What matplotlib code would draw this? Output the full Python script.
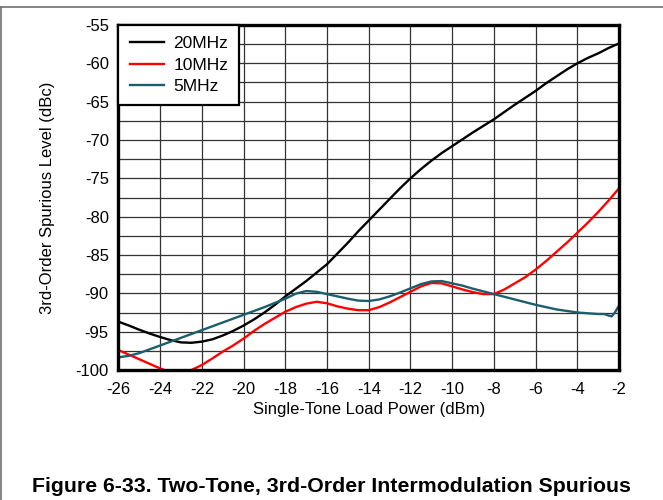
import numpy as np
import matplotlib
matplotlib.use("Agg")
import matplotlib.pyplot as plt
from matplotlib.lines import Line2D

plt.rcParams['font.family'] = ['Liberation Sans', 'DejaVu Sans']
plt.rcParams['axes.unicode_minus'] = False

# 20MHz
x_20 = [-26, -25.5, -25, -24.5, -24, -23.5, -23, -22.5, -22, -21.5, -21, -20.5,
        -20, -19.5, -19, -18.5, -18, -17.5, -17, -16.5, -16, -15.5, -15, -14.5,
        -14, -13.5, -13, -12.5, -12, -11.5, -11, -10.5, -10, -9.5, -9, -8.5,
        -8, -7.5, -7, -6.5, -6, -5.5, -5, -4.5, -4, -3.5, -3, -2.5, -2]
y_20 = [-93.7, -94.2, -94.75, -95.25, -95.7, -96.1, -96.4, -96.45, -96.3, -96.0,
        -95.5, -94.9, -94.2, -93.4, -92.5, -91.5, -90.4, -89.4, -88.4, -87.3,
        -86.2, -84.8, -83.4, -81.9, -80.5, -79.1, -77.7, -76.3, -75.0, -73.8,
        -72.7, -71.7, -70.8, -69.9, -69.0, -68.15, -67.3, -66.35, -65.4, -64.5,
        -63.6, -62.6, -61.7, -60.8, -60.0, -59.3, -58.7, -58.0, -57.4]

# 10MHz
x_10 = [-26, -25.5, -25, -24.5, -24, -23.5, -23, -22.5, -22, -21.5, -21, -20.5,
        -20, -19.5, -19, -18.5, -18, -17.5, -17, -16.5, -16, -15.5, -15, -14.5,
        -14, -13.5, -13, -12.5, -12, -11.5, -11, -10.5, -10, -9.5, -9, -8.5,
        -8, -7.5, -7, -6.5, -6, -5.5, -5, -4.5, -4, -3.5, -3, -2.5, -2]
y_10 = [-97.4, -98.0, -98.6, -99.2, -99.8, -100.3, -100.4, -100.0, -99.35, -98.5,
        -97.6, -96.8, -95.9, -94.9, -94.0, -93.2, -92.4, -91.8, -91.35, -91.1,
        -91.3, -91.7, -92.0, -92.2, -92.2, -91.8, -91.2, -90.5, -89.8, -89.1,
        -88.65, -88.7, -89.1, -89.5, -89.85, -90.1, -90.1, -89.5, -88.7, -87.9,
        -86.9, -85.8, -84.6, -83.4, -82.1, -80.8, -79.4, -77.9, -76.3]

# 5MHz
x_5 = [-26, -25.5, -25, -24.5, -24, -23, -22, -21, -20, -19, -18, -17.5, -17,
       -16.5, -16, -15.5, -15, -14.5, -14, -13.5, -13, -12.5, -12, -11.5, -11,
       -10.5, -10, -9.5, -9, -8.5, -8, -7, -6, -5, -4, -3.5, -3, -2.7, -2.5,
       -2.35, -2.2, -2]
y_5 = [-98.35, -98.15, -97.8, -97.3, -96.8, -95.8, -94.8, -93.8, -92.8, -91.8,
       -90.7, -90.05, -89.7, -89.8, -90.1, -90.4, -90.7, -90.95, -91.0, -90.8,
       -90.4, -89.9, -89.35, -88.8, -88.45, -88.4, -88.7, -89.0, -89.4, -89.75,
       -90.1, -90.8, -91.5, -92.1, -92.5, -92.6, -92.7, -92.7, -92.9, -93.0,
       -92.5, -91.6]

xticks = np.arange(-26, -1, 2)
yticks = np.arange(-100, -54, 5)
yminor = np.arange(-97.5, -55, 5)

fig = plt.figure(figsize=(6.63, 5.0), dpi=100)
ax = fig.add_axes([0.1787, 0.26, 0.755, 0.69])

ax.plot(x_20, y_20, color='black', lw=1.7, label='20MHz', zorder=3)
ax.plot(x_10, y_10, color='#ff0000', lw=1.7, label='10MHz', zorder=3)
ax.plot(x_5, y_5, color='#1b5e6c', lw=1.7, label='5MHz', zorder=4)

ax.set_xlim(-26, -2)
ax.set_ylim(-100, -55)
ax.set_xticks(xticks)
ax.set_yticks(yticks)
ax.set_yticks(yminor, minor=True)
ax.grid(True, which='both', color='#333333', lw=0.9, zorder=1)
ax.tick_params(which='both', length=0, labelsize=12)
ax.tick_params(axis='x', pad=9)
ax.tick_params(axis='y', pad=7)
for s in ax.spines.values():
    s.set_linewidth(2.4)
    s.set_zorder(5)

ax.set_xlabel('Single-Tone Load Power (dBm)', fontsize=12, labelpad=3)
ax.set_ylabel('3rd-Order Spurious Level (dBc)', fontsize=12, labelpad=14.5)

leg = ax.legend(loc='upper left', fontsize=12.5, fancybox=False, framealpha=1,
                edgecolor='black', borderaxespad=0, handlelength=1.95,
                handletextpad=0.55, labelspacing=0.35, borderpad=0.65)
leg.get_frame().set_linewidth(1.6)
leg.set_zorder(6)

fig.text(0.5, 0.026, 'Figure 6-33. Two-Tone, 3rd-Order Intermodulation Spurious',
         ha='center', va='center', fontsize=15.3, fontweight='bold')

# page frame lines
fig.add_artist(Line2D([0, 1], [0.986, 0.986], color='#707070', lw=1.2))
fig.add_artist(Line2D([0.0015, 0.0015], [0, 0.986], color='#707070', lw=1.2))

fig.savefig('out.png', dpi=100)
